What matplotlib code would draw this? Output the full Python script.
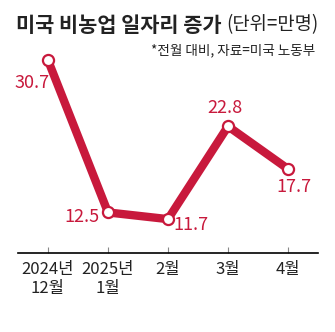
import matplotlib
matplotlib.use("Agg")
import matplotlib.pyplot as plt

plt.rcParams['font.family'] = ['Liberation Sans Narrow', 'Noto Sans CJK KR', 'DejaVu Sans']

months = ["2024년\n12월", "2025년\n1월", "2월", "3월", "4월"]
values = [30.7, 12.5, 11.7, 22.8, 17.7]
labels = ["30.7", "12.5", "11.7", "22.8", "17.7"]
# label offsets in pixels from each point
offsets = [(-16, -23), (-26, -5), (23, -6), (-3, 18), (6, -18)]

RED = "#C8193C"
W, H = 335, 332

fig = plt.figure(figsize=(W / 100, H / 100), dpi=100)
ax = fig.add_axes([18 / W, (H - 253) / H, 300 / W, 253 / H])
x = list(range(len(values)))
ax.plot(x, values, color=RED, lw=6, solid_capstyle="round", zorder=2)
ax.plot(x, values, "o", ms=8, mfc="white", mec=RED, mew=1.6, zorder=3)
for xi, v, lab, (dx, dy) in zip(x, values, labels, offsets):
    ax.annotate(lab, (xi, v), xytext=(dx, dy), textcoords="offset pixels",
                ha="center", va="center", color=RED, fontsize=13)

ax.set_xlim(-0.5, 4.5)
ax.set_ylim(7.65, 37.9)
ax.set_yticks([])
for s in ["top", "right", "left"]:
    ax.spines[s].set_visible(False)
ax.spines["bottom"].set_linewidth(1.2)
ax.set_xticks(x)
ax.set_xticklabels(months, fontsize=12, color="#222222", linespacing=1.1, va="top")
ax.tick_params(axis="x", direction="in", length=4, width=0.8, color="#888888", pad=6)
ax.patch.set_alpha(0)

fig.text(16 / W, 1 - 25 / H, "미국 비농업 일자리 증가", fontsize=15, fontweight="bold",
         family=["Noto Sans CJK KR"], va="center", ha="left", color="#222222")
fig.text(318 / W, 1 - 25 / H, "(단위=만명)", fontsize=13.5, family=["Noto Sans CJK KR"],
         va="center", ha="right", color="#222222")
fig.text(315 / W, 1 - 50 / H, "*전월 대비, 자료=미국 노동부", fontsize=9.8,
         family=["Noto Sans CJK KR"], va="center", ha="right", color="#222222")

fig.savefig("out.png", dpi=100, facecolor="white")
